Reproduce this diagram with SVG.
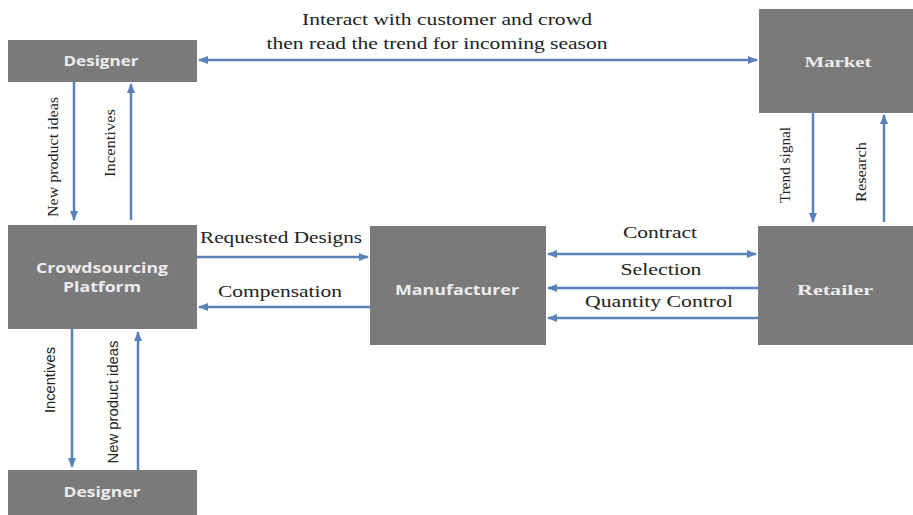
<svg xmlns="http://www.w3.org/2000/svg" width="913" height="515" viewBox="0 0 913 515">
  <style>
    .box { fill: #7a7a7a; }
    .nl { fill: #ececec; font-family: "Open Sans", "Liberation Sans", sans-serif; font-weight: bold; font-size: 14px; text-anchor: middle; }
    .ns { fill: #ececec; font-family: "Liberation Serif", serif; font-weight: bold; font-size: 15px; text-anchor: middle; }
    .lbl { fill: #222; font-family: "Liberation Serif", serif; font-size: 16px; text-anchor: middle; }
    .vs { fill: #222; font-family: "Liberation Serif", serif; font-size: 15px; text-anchor: middle; }
    .vn { fill: #222; font-family: "Liberation Sans", sans-serif; font-size: 14px; text-anchor: middle; }
    .ln { stroke: #5b82b8; stroke-width: 2.5; fill: none; }
  </style>
  <defs>
    <marker id="ah" viewBox="0 0 10 10" refX="9" refY="5" markerWidth="4" markerHeight="4" orient="auto-start-reverse">
      <path d="M0,1 L10,5 L0,9 z" fill="#5b82b8"/>
    </marker>
  </defs>

  <g id="designer-top">
    <rect class="box" x="8" y="40" width="189" height="42"/>
    <text class="nl" x="101" y="66" textLength="75" lengthAdjust="spacingAndGlyphs">Designer</text>
  </g>
  <g id="market">
    <rect class="box" x="759" y="9" width="154" height="104"/>
    <text class="ns" x="838" y="67" textLength="67" lengthAdjust="spacingAndGlyphs">Market</text>
  </g>
  <g id="crowdsourcing-platform">
    <rect class="box" x="8" y="225" width="189" height="104"/>
    <text class="nl" x="102" y="273" textLength="132" lengthAdjust="spacingAndGlyphs">Crowdsourcing</text>
    <text class="nl" x="102" y="292" textLength="78" lengthAdjust="spacingAndGlyphs">Platform</text>
  </g>
  <g id="manufacturer">
    <rect class="box" x="370" y="226" width="176" height="119"/>
    <text class="nl" x="457" y="295" textLength="124" lengthAdjust="spacingAndGlyphs">Manufacturer</text>
  </g>
  <g id="retailer">
    <rect class="box" x="758" y="226" width="155" height="119"/>
    <text class="ns" x="835" y="295" textLength="76" lengthAdjust="spacingAndGlyphs">Retailer</text>
  </g>
  <g id="designer-bottom">
    <rect class="box" x="8" y="470" width="189" height="45"/>
    <text class="nl" x="102" y="497" textLength="77" lengthAdjust="spacingAndGlyphs">Designer</text>
  </g>

  <g id="connectors">
    <line class="ln" x1="199" y1="60" x2="757" y2="60" marker-start="url(#ah)" marker-end="url(#ah)"/>
    <line class="ln" x1="74" y1="82" x2="74" y2="220" marker-end="url(#ah)"/>
    <line class="ln" x1="131" y1="220" x2="131" y2="84" marker-end="url(#ah)"/>
    <line class="ln" x1="813" y1="113" x2="813" y2="222" marker-end="url(#ah)"/>
    <line class="ln" x1="884" y1="222" x2="884" y2="115" marker-end="url(#ah)"/>
    <line class="ln" x1="197" y1="257" x2="368" y2="257" marker-end="url(#ah)"/>
    <line class="ln" x1="370" y1="307" x2="199" y2="307" marker-end="url(#ah)"/>
    <line class="ln" x1="548" y1="254" x2="756" y2="254" marker-start="url(#ah)" marker-end="url(#ah)"/>
    <line class="ln" x1="758" y1="288" x2="548" y2="288" marker-end="url(#ah)"/>
    <line class="ln" x1="758" y1="318" x2="548" y2="318" marker-end="url(#ah)"/>
    <line class="ln" x1="72" y1="329" x2="72" y2="467" marker-end="url(#ah)"/>
    <line class="ln" x1="138" y1="470" x2="138" y2="332" marker-end="url(#ah)"/>
  </g>

  <g id="labels">
    <text class="lbl" x="447" y="25" font-size="17" textLength="290" lengthAdjust="spacingAndGlyphs">Interact with customer and crowd</text>
    <text class="lbl" x="437" y="49" font-size="17" textLength="341" lengthAdjust="spacingAndGlyphs">then read the trend for incoming season</text>
    <text class="lbl" x="281" y="243" textLength="162" lengthAdjust="spacingAndGlyphs">Requested Designs</text>
    <text class="lbl" x="280" y="297" textLength="124" lengthAdjust="spacingAndGlyphs">Compensation</text>
    <text class="lbl" x="660" y="238" textLength="74" lengthAdjust="spacingAndGlyphs">Contract</text>
    <text class="lbl" x="661" y="275" textLength="81" lengthAdjust="spacingAndGlyphs">Selection</text>
    <text class="lbl" x="659" y="307" textLength="148" lengthAdjust="spacingAndGlyphs">Quantity Control</text>
    <text class="vs" transform="translate(58,157) rotate(-90)" textLength="120" lengthAdjust="spacingAndGlyphs">New product ideas</text>
    <text class="vs" transform="translate(115,143) rotate(-90)" textLength="68" lengthAdjust="spacingAndGlyphs">Incentives</text>
    <text class="vs" transform="translate(790,165) rotate(-90)" textLength="76" lengthAdjust="spacingAndGlyphs">Trend signal</text>
    <text class="vs" transform="translate(866,172) rotate(-90)" textLength="60" lengthAdjust="spacingAndGlyphs">Research</text>
    <text class="vn" transform="translate(55,380) rotate(-90)" textLength="66" lengthAdjust="spacingAndGlyphs">Incentives</text>
    <text class="vn" transform="translate(118,402) rotate(-90)" textLength="123" lengthAdjust="spacingAndGlyphs">New product ideas</text>
  </g>
</svg>
